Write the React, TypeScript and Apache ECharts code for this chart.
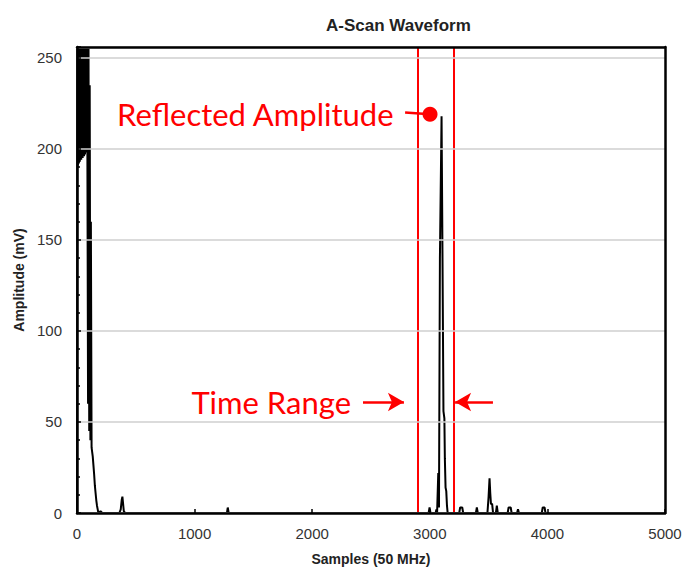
import React, { useEffect, useRef } from "react";
import * as echarts from "echarts";

// Waveform samples (x, 50 MHz sample index) and amplitudes (mV)
const waveSamples = [
  0, 2, 4, 6, 8, 10, 12, 14, 16, 18, 20, 22, 24, 26, 28, 30, 32, 34, 36, 38, 40, 42, 44, 46, 48, 50,
  52, 54, 56, 58, 60, 62, 64, 66, 68, 70, 72, 74, 76, 78, 80, 82, 84, 86, 88,
  94, 98, 104, 108, 114, 118, 124, 128, 134, 140, 146, 152, 158, 164, 170, 176, 182, 200, 215,
  240, 360, 372, 380, 386, 392, 398, 410, 1275, 1282, 1290,
  2990, 2998, 3006, 3050, 3056, 3062, 3072, 3078, 3086, 3100, 3108, 3116, 3124, 3128, 3134, 3140, 3146, 3152,
  3250, 3258, 3276, 3284, 3392, 3400, 3408, 3490, 3500, 3508, 3514, 3520, 3530, 3538,
  3562, 3570, 3578, 3662, 3670, 3688, 3696, 3742, 3750, 3758, 3952, 3960, 3976, 3984, 5000,
];
const waveAmps = [
  0, 255, 190, 255, 191, 255, 192, 255, 192, 255, 193, 255, 193, 255, 194, 255, 194, 255, 194, 255, 195, 255, 195, 255, 195, 255,
  196, 255, 196, 255, 196, 255, 197, 255, 197, 255, 198, 255, 198, 255, 199, 255, 200, 255, 255,
  60, 255, 45, 235, 40, 160, 36, 34, 31, 26, 21, 15, 11, 7, 4, 2, 0, 1, 0,
  0, 0, 2, 7, 9, 5, 1, 0, 0, 3, 0,
  0, 3, 0, 0, 2, 0, 22, 3, 140, 218, 140, 56, 52, 30, 14, 12, 4, 0,
  0, 3, 3, 0, 0, 3, 0, 0, 9, 19, 11, 5, 5, 0,
  0, 4, 0, 0, 3, 3, 0, 0, 2, 0, 0, 3, 3, 0, 0,
];

// Time-range gate (samples)
const gateSamples = [2900, 3200];
// Reflected amplitude marker [sample, mV] and its leader line start
const peakMarker = [3002, 219];
const leaderStart = [2790, 220];
// Time range arrows: [tail, tip] sample positions at a given amplitude level
const arrowLevel = 61;
const rightArrow = [2432, 2780];
const leftArrow = [3537, 3215];

const yTicks = [0, 50, 100, 150, 200, 250];
const xTicks = [0, 1000, 2000, 3000, 4000, 5000];

const RED = "#ff0000";
const FONT = "Liberation Sans";
const ANNOT_FONT = "Lato";

export default function App() {
  const ref = useRef<HTMLDivElement>(null);

  useEffect(() => {
    if (!ref.current) return;
    const chart = echarts.init(ref.current, undefined, { renderer: "svg" });
    const wave = waveSamples.map((s, i) => [s, waveAmps[i]]);

    const frameAxis = {
      axisLine: { show: true, onZero: false, lineStyle: { color: "#000", width: 2.5 } },
      axisTick: { show: false },
      axisLabel: { show: false },
      splitLine: { show: false },
    };

    chart.setOption({
      animation: false,
      backgroundColor: "#fff",
      title: {
        text: "A-Scan Waveform",
        left: 321,
        top: 12,
        textStyle: { fontFamily: FONT, fontSize: 17, fontWeight: "bold", color: "#222" },
      },
      grid: {
        left: 77,
        right: 25,
        top: 47,
        bottom: 60,
      },
      xAxis: [
        {
          type: "value",
          min: xTicks[0],
          max: xTicks[xTicks.length - 1],
          interval: 1000,
          name: "Samples (50 MHz)",
          nameLocation: "middle",
          nameGap: 39,
          nameTextStyle: { fontFamily: FONT, fontSize: 14, fontWeight: "bold", color: "#222" },
          axisLine: { onZero: false, lineStyle: { color: "#000", width: 2.5 } },
          axisTick: { inside: true, length: 4, lineStyle: { color: "#000", width: 1.5 } },
          axisLabel: {
            fontFamily: FONT,
            fontSize: 15,
            color: "#333",
            margin: 13,
            formatter: (v: number) => String(v),
          },
          splitLine: { show: false },
          z: 10,
        },
        {
          type: "value",
          position: "top",
          min: xTicks[0],
          max: xTicks[xTicks.length - 1],
          ...frameAxis,
          z: 10,
        },
      ],
      yAxis: [
        {
          type: "value",
          min: yTicks[0],
          max: 256,
          interval: 50,
          name: "Amplitude (mV)",
          nameLocation: "middle",
          nameGap: 48,
          nameTextStyle: { fontFamily: FONT, fontSize: 14, fontWeight: "bold", color: "#222" },
          axisLine: { onZero: false, lineStyle: { color: "#000", width: 2.5 } },
          axisTick: { inside: true, length: 4, lineStyle: { color: "#000", width: 1.5 } },
          minorTick: { show: true, splitNumber: 5, length: 3, lineStyle: { color: "#000", width: 1.5 } },
          axisLabel: {
            fontFamily: FONT,
            fontSize: 15,
            color: "#333",
            margin: 15,
            showMaxLabel: false,
            formatter: (v: number) => (yTicks.includes(v) ? String(v) : ""),
          },
          splitLine: { show: true, lineStyle: { color: "#cfcfcf", width: 1.5 } },
          z: 10,
        },
        {
          type: "value",
          position: "right",
          min: yTicks[0],
          max: 256,
          ...frameAxis,
          z: 10,
        },
      ],
      series: [
        {
          type: "line",
          data: wave,
          showSymbol: false,
          symbol: "none",
          lineStyle: { color: "#000", width: 2 },
          z: 3,
          markLine: {
            silent: true,
            symbol: "none",
            label: { show: false },
            lineStyle: { color: RED, width: 2, type: "solid" },
            data: gateSamples.map((g) => ({ xAxis: g })),
            z: 2,
          },
        },
        {
          type: "line",
          data: [],
          markLine: {
            silent: true,
            symbol: ["none", "arrow"],
            symbolSize: [14, 16],
            lineStyle: { color: RED, width: 2.5, type: "solid" },
            label: {
              show: true,
              position: "start",
              distance: 12,
              fontFamily: ANNOT_FONT,
              fontSize: 31,
              color: RED,
              formatter: (p: any) => p.name,
            },
            data: [
              [
                { name: "Time Range", coord: [rightArrow[0], arrowLevel] },
                { coord: [rightArrow[1], arrowLevel] },
              ],
              [
                { name: "", coord: [leftArrow[0], arrowLevel], label: { show: false } },
                { coord: [leftArrow[1], arrowLevel] },
              ],
            ],
          },
          z: 4,
        },
        {
          type: "line",
          data: [leaderStart, peakMarker],
          showSymbol: false,
          symbol: "none",
          lineStyle: { color: RED, width: 2.5 },
          z: 5,
        },
        {
          type: "scatter",
          data: [peakMarker],
          symbolSize: 15,
          itemStyle: { color: RED, opacity: 1 },
          label: {
            show: true,
            position: "left",
            distance: 29,
            fontFamily: ANNOT_FONT,
            fontSize: 31,
            color: RED,
            formatter: "Reflected Amplitude",
          },
          z: 6,
        },
      ],
    });

    return () => chart.dispose();
  }, []);

  return (
    <div
      ref={ref}
      style={{ position: "fixed", left: 0, top: 0, width: 690, height: 573, background: "#fff" }}
    />
  );
}
